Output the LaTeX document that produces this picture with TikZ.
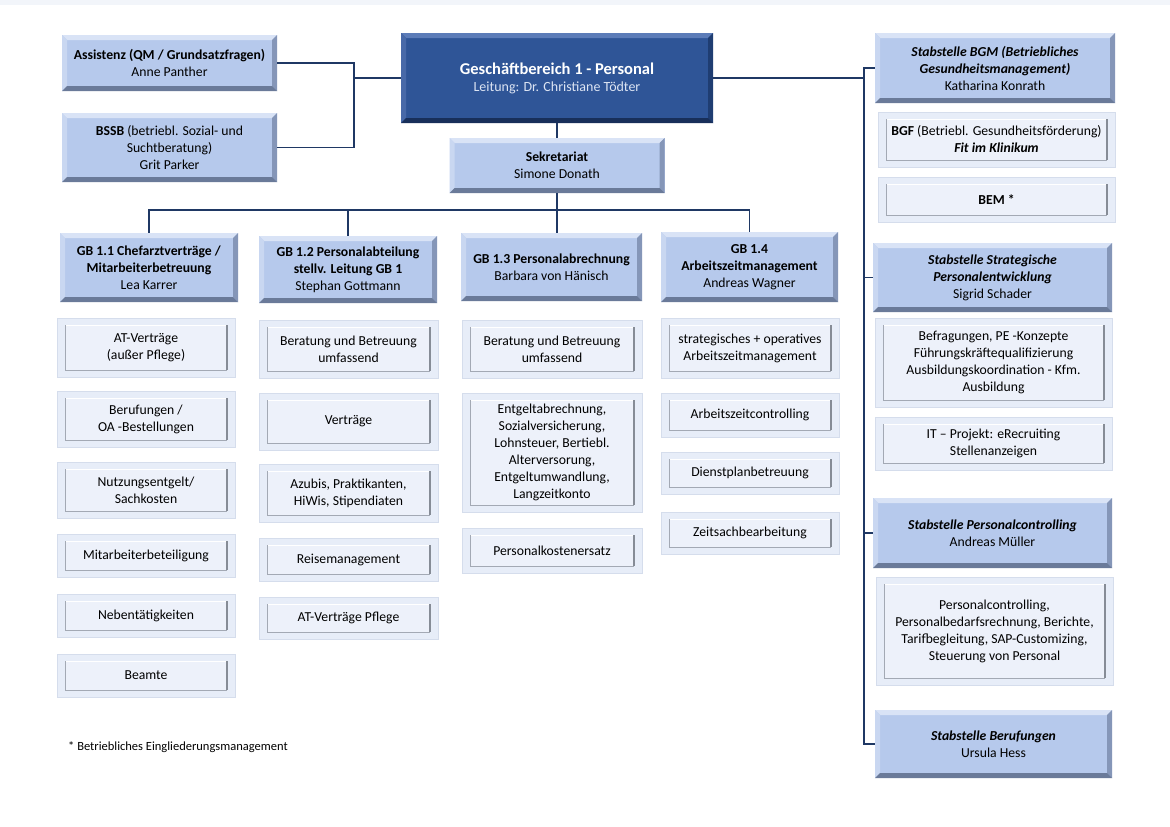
\documentclass[tikz,border=0pt]{standalone}
\usepackage{fontspec}
\setmainfont{Carlito}
\usetikzlibrary{calc}
\definecolor{hfill}{HTML}{B6C9EC}
\definecolor{htop}{HTML}{D9E3F6}
\definecolor{hleft}{HTML}{C9D7F1}
\definecolor{hright}{HTML}{8596B8}
\definecolor{hbot}{HTML}{6A7A99}
\definecolor{dfill}{HTML}{2F5597}
\definecolor{dtop}{HTML}{5C7CB8}
\definecolor{dleft}{HTML}{4869A8}
\definecolor{dright}{HTML}{1F3D72}
\definecolor{dbot}{HTML}{182F5A}
\definecolor{ifill}{HTML}{E7EDF8}
\definecolor{iborder}{HTML}{D5DDEC}
\definecolor{iinner}{HTML}{EDF1FA}
\definecolor{iedge}{HTML}{A3A9B4}
\definecolor{iedged}{HTML}{868C96}
\definecolor{linec}{HTML}{1F3864}
\definecolor{sub}{HTML}{DCE4F3}
\definecolor{band}{HTML}{F2F5FA}
\newcommand\myfont{\fontsize{13.7}{17}\selectfont}
\newcommand\myfoot{\fontsize{12.5}{15}\selectfont}
\tikzset{
  x=1pt, y=-1pt,
  bev/.style n args={5}{fill=#1, inner sep=0pt, align=center, font=\myfont,
    path picture={
      \fill[#2] let \p1=(path picture bounding box.north west), \p2=(path picture bounding box.south east) in
        (\x1,\y1) -- (\x2,\y1) -- (\x2-5pt,\y1-5pt) -- (\x1+5pt,\y1-5pt) -- cycle;
      \fill[#3] let \p1=(path picture bounding box.north west), \p2=(path picture bounding box.south east) in
        (\x1,\y1) -- (\x1+5pt,\y1-5pt) -- (\x1+5pt,\y2+5pt) -- (\x1,\y2) -- cycle;
      \fill[#4] let \p1=(path picture bounding box.north west), \p2=(path picture bounding box.south east) in
        (\x2,\y1) -- (\x2-5pt,\y1-5pt) -- (\x2-5pt,\y2+5pt) -- (\x2,\y2) -- cycle;
      \fill[#5] let \p1=(path picture bounding box.north west), \p2=(path picture bounding box.south east) in
        (\x1,\y2) -- (\x2,\y2) -- (\x2-5pt,\y2+5pt) -- (\x1+5pt,\y2+5pt) -- cycle;
    }},
  hdr/.style={bev={hfill}{htop}{hleft}{hright}{hbot}},
  dhdr/.style={bev={dfill}{dtop}{dleft}{dright}{dbot}, text=white},
  item/.style={fill=ifill, draw=iborder, line width=0.6pt, inner sep=0pt, align=center, font=\myfont,
    path picture={
      \fill[iinner] let \p1=(path picture bounding box.north west), \p2=(path picture bounding box.south east) in
        (\x1+8pt,\y1-7pt) rectangle (\x2-8pt,\y2+7pt);
      \draw[white, line width=0.8pt] let \p1=(path picture bounding box.north west), \p2=(path picture bounding box.south east) in
        (\x1+8pt,\y1-7pt) -- (\x2-8pt,\y1-7pt);
      \draw[iedge, line width=0.8pt] let \p1=(path picture bounding box.north west), \p2=(path picture bounding box.south east) in
        (\x1+8pt,\y1-7pt) -- (\x1+8pt,\y2+7pt) -- (\x2-8pt,\y2+7pt);
      \draw[iedged, line width=1.3pt] let \p1=(path picture bounding box.north west), \p2=(path picture bounding box.south east) in
        (\x2-8pt,\y1-7pt) -- (\x2-8pt,\y2+7pt);
    }},
  conn/.style={draw=linec, line width=1.6pt},
}
\begin{document}
\begin{tikzpicture}
\useasboundingbox (0,0) rectangle (1170,827);
\fill[white] (0,0) rectangle (1170,827);
\fill[band] (0,0) rectangle (1170,5);

% top
\node[hdr, minimum width=215pt, minimum height=56pt] (asst) at (169.5,63) {\textbf{Assistenz (QM / Grundsatzfragen)}\\Anne Panther};
\node[hdr, minimum width=215pt, minimum height=69pt] (bssb) at (169.5,147.5) {\textbf{BSSB} (betriebl. Sozial- und\\Suchtberatung)\\Grit Parker};
\node[dhdr, minimum width=312pt, minimum height=90pt] (gb1) at (557,78) {\fontsize{16.5}{18}\selectfont\textbf{Geschäftbereich 1 - Personal}\\{\color{sub}\fontsize{14}{17}\selectfont Leitung: Dr. Christiane Tödter}};
\node[hdr, minimum width=215pt, minimum height=55pt] (sek) at (557,165.5) {\textbf{Sekretariat}\\Simone Donath};

% GB 1.x heads
\node[hdr, minimum width=178pt, minimum height=69pt] (gb11) at (149,267.5) {\textbf{GB 1.1 Chefarztverträge /}\\\textbf{Mitarbeiterbetreuung}\\Lea Karrer};
\node[hdr, minimum width=178pt, minimum height=67pt] (gb12) at (348,269.5) {\textbf{GB 1.2 Personalabteilung}\\\textbf{stellv. Leitung GB 1}\\Stephan Gottmann};
\node[hdr, minimum width=181pt, minimum height=68pt] (gb13) at (551.5,267) {\textbf{GB 1.3 Personalabrechnung}\\Barbara von Hänisch};
\node[hdr, minimum width=177pt, minimum height=70pt] (gb14) at (749.5,267) {\textbf{GB 1.4}\\\textbf{Arbeitszeitmanagement}\\Andreas Wagner};

% column 1
\node[item, minimum width=178pt, minimum height=59pt] (a1) at (146,347.5) {AT-Verträge\\(außer Pflege)};
\node[item, minimum width=178pt, minimum height=56pt] (a2) at (146,419) {Berufungen /\\OA -Bestellungen};
\node[item, minimum width=178pt, minimum height=56pt] (a3) at (146,490) {Nutzungsentgelt/\\Sachkosten};
\node[item, minimum width=178pt, minimum height=43pt] (a4) at (146,555.5) {Mitarbeiterbeteiligung};
\node[item, minimum width=178pt, minimum height=43pt] (a5) at (146,615.5) {Nebentätigkeiten};
\node[item, minimum width=178pt, minimum height=43pt] (a6) at (146,675.5) {Beamte};

% column 2
\node[item, minimum width=179pt, minimum height=58pt] (b1) at (348.5,349) {Beratung und Betreuung\\umfassend};
\node[item, minimum width=179pt, minimum height=57pt] (b2) at (348.5,421.5) {Verträge};
\node[item, minimum width=179pt, minimum height=58pt] (b3) at (348.5,493) {Azubis, Praktikanten,\\HiWis, Stipendiaten};
\node[item, minimum width=179pt, minimum height=43pt] (b4) at (348.5,559.5) {Reisemanagement};
\node[item, minimum width=179pt, minimum height=42pt] (b5) at (348.5,618) {AT-Verträge Pflege};

% column 3
\node[item, minimum width=180pt, minimum height=58pt] (c1) at (552,349) {Beratung und Betreuung\\umfassend};
\node[item, minimum width=180pt, minimum height=119pt] (c2) at (552,452.5) {Entgeltabrechnung,\\Sozialversicherung,\\Lohnsteuer, Bertiebl.\\Alterversorung,\\Entgeltumwandlung,\\Langzeitkonto};
\node[item, minimum width=180pt, minimum height=45pt] (c3) at (552,550.5) {Personalkostenersatz};

% column 4
\node[item, minimum width=178pt, minimum height=60pt] (d1) at (750,348) {strategisches + operatives\\Arbeitszeitmanagement};
\node[item, minimum width=178pt, minimum height=44pt] (d2) at (750,415) {Arbeitszeitcontrolling};
\node[item, minimum width=178pt, minimum height=42pt] (d3) at (750,473) {Dienstplanbetreuung};
\node[item, minimum width=178pt, minimum height=42pt] (d4) at (750,533) {Zeitsachbearbeitung};

% right column
\node[hdr, minimum width=240pt, minimum height=70pt] (bgm) at (995,68) {\textbf{\textit{Stabstelle BGM (Betriebliches}}\\\textbf{\textit{Gesundheitsmanagement)}}\\Katharina Konrath};
\node[item, minimum width=237pt, minimum height=55pt] (bgf) at (996.5,139.5) {\textbf{BGF} (Betriebl. Gesundheitsförderung)\\\textbf{\textit{Fit im Klinikum}}};
\node[item, minimum width=237pt, minimum height=45pt] (bem) at (996.5,199.5) {\textbf{BEM *}};
\node[hdr, minimum width=239pt, minimum height=69pt] (strat) at (992.5,277.5) {\textbf{\textit{Stabstelle Strategische}}\\\textbf{\textit{Personalentwicklung}}\\Sigrid Schader};
\node[item, minimum width=237pt, minimum height=89pt] (befr) at (993.5,362.5) {Befragungen, PE -Konzepte\\Führungskräftequalifizierung\\Ausbildungskoordination - Kfm.\\Ausbildung};
\node[item, minimum width=237pt, minimum height=53pt] (itp) at (993.5,443.5) {IT – Projekt: eRecruiting\\Stellenanzeigen};
\node[hdr, minimum width=239pt, minimum height=70pt] (pc) at (992.5,533) {\textbf{\textit{Stabstelle Personalcontrolling}}\\Andreas Müller};
\node[item, minimum width=237pt, minimum height=108pt] (pci) at (994.5,631) {Personalcontrolling,\\Personalbedarfsrechnung, Berichte,\\Tarifbegleitung, SAP-Customizing,\\Steuerung von Personal};
\node[hdr, minimum width=237pt, minimum height=68pt] (beruf) at (993.5,744) {\textbf{\textit{Stabstelle Berufungen}}\\Ursula Hess};

% footnote
\node[anchor=west, inner sep=0pt, font=\myfoot] (foot) at (68,747) {* Betriebliches Eingliederungsmanagement};

% connectors
\coordinate (jl) at (354,78);
\coordinate (jr) at (864,78);
\coordinate (bus) at (557,210);
\draw[conn] (asst.east) -| (jl) |- (bssb.east);
\draw[conn] (jl) -- (gb1.west);
\draw[conn] (gb1.south) -- (sek.north);
\draw[conn] (sek.south) -- (sek.south |- gb13.north);
\draw[conn] (gb11.north) |- (bus) -| (gb14.north);
\draw[conn] (gb12.north) -- (gb12.north |- bus);
\draw[conn] (gb1.east) -- (jr);
\draw[conn] (bgm.west) -| (jr |- beruf.west) -- (beruf.west);
\draw[conn] (strat.west) -- (strat.west -| jr);
\draw[conn] (pc.west) -- (pc.west -| jr);
\end{tikzpicture}
\end{document}
